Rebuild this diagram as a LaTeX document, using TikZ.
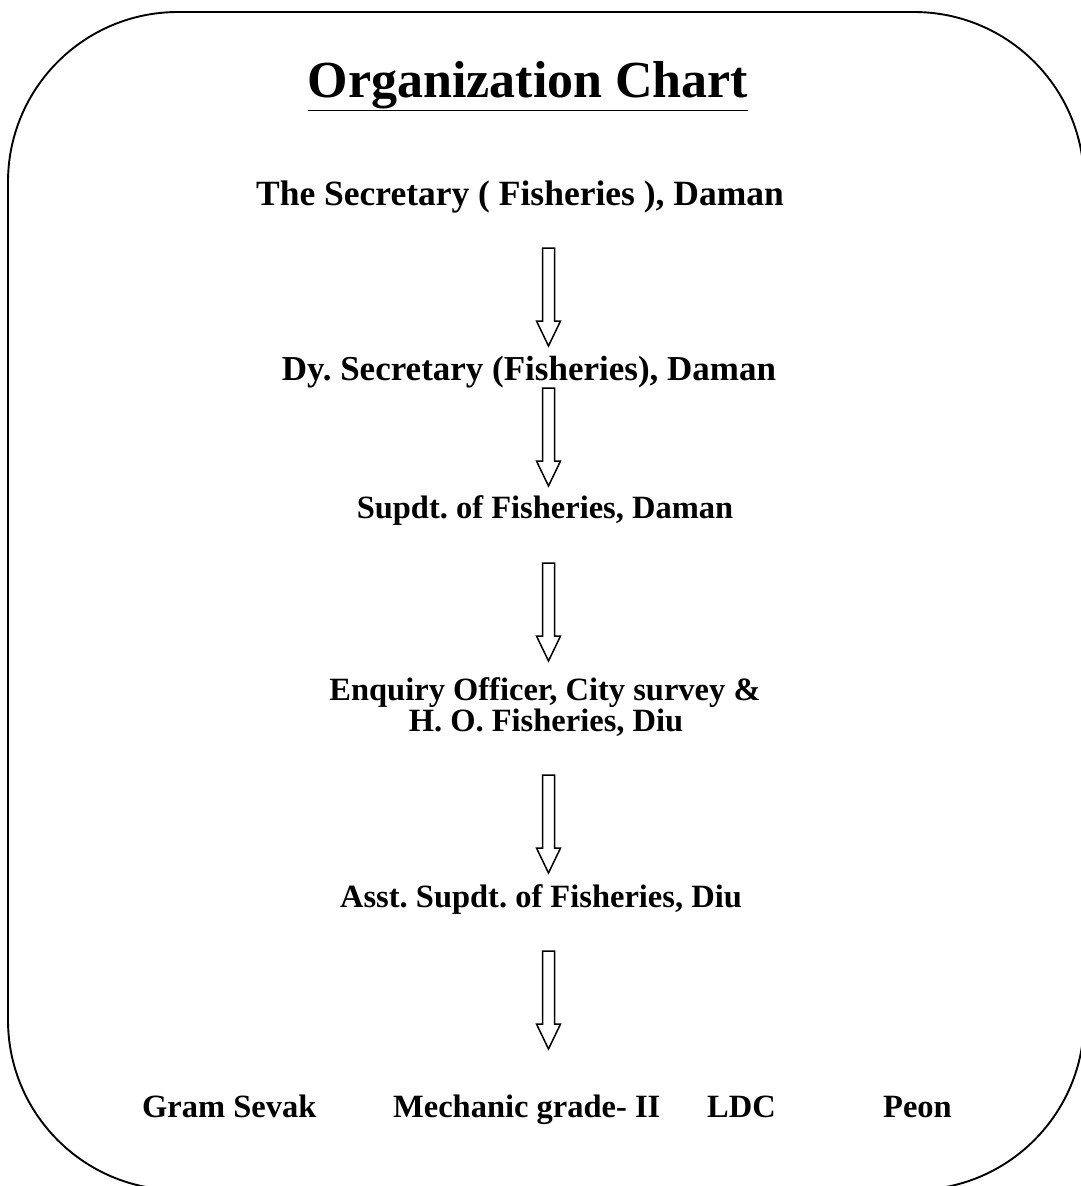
\documentclass[tikz,border=0pt]{standalone}
\usepackage{fontspec}
\setmainfont{Liberation Serif}
\frenchspacing
\begin{document}
\begin{tikzpicture}[x=1pt,y=-1pt,
  lbl/.style={font=\fontsize{32.5}{38}\selectfont\bfseries, anchor=base, inner sep=0pt, align=center},
  biglbl/.style={lbl, font=\fontsize{35.5}{42}\selectfont\bfseries},
  ttl/.style={font=\fontsize{52}{62}\selectfont\bfseries, anchor=base, inner sep=0pt},
  blockarrow/.style={draw=black, line width=1.5pt, fill=white, line join=miter}]
\useasboundingbox (0,0) rectangle (1081,1186);
\clip (0,0) rectangle (1081,1186);
\draw[line width=1.9pt, rounded corners=170pt] (8,12) rectangle (1084,1190);

\node[ttl] (title) at (528,97) {\underline{Organization Chart}};
\node[biglbl] (sec) at (520,205) {The Secretary ( Fisheries ), Daman};
\node[biglbl, font=\fontsize{35}{42}\selectfont\bfseries] (dysec) at (529,380) {Dy. Secretary (Fisheries), Daman};
\node[lbl] (supdt) at (545,518) {Supdt. of Fisheries, Daman};
\node[lbl] (enq) at (545,700) {Enquiry Officer, City survey \&};
\node[lbl] (ho) at (546,731) {H. O. Fisheries, Diu};
\node[lbl] (asst) at (541,907) {Asst. Supdt. of Fisheries, Diu};
\node[lbl, anchor=base west] (gram) at (142,1117) {Gram Sevak};
\node[lbl, anchor=base west] (mech) at (393,1117) {Mechanic grade- II};
\node[lbl, anchor=base west] (ldc) at (707,1117) {LDC};
\node[lbl, anchor=base west] (peon) at (883,1117) {Peon};

\foreach \t in {248,388,563,775,951}{
  \draw[blockarrow] (542.5,\t) -- (554.5,\t) -- (554.5,\t+73) -- (560.5,\t+73)
     -- (548.5,\t+98) -- (536.5,\t+73) -- (542.5,\t+73) -- cycle;
}
\end{tikzpicture}
\end{document}
